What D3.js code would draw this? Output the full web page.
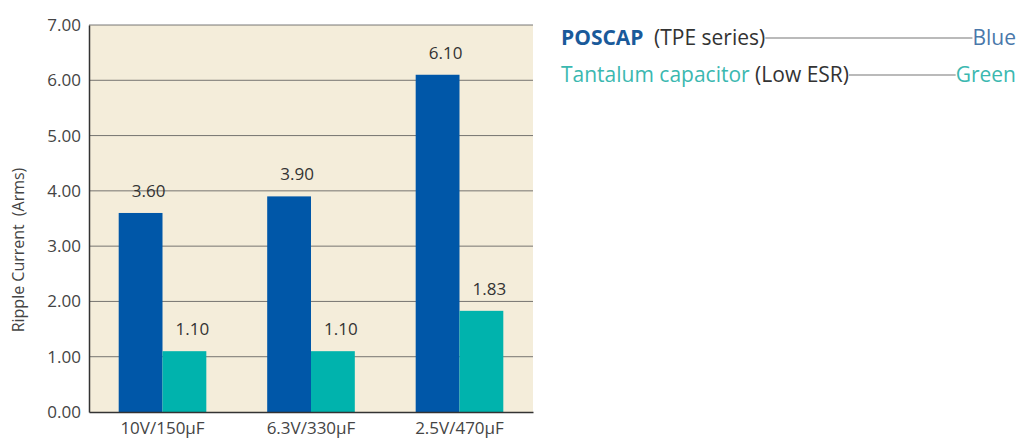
<!DOCTYPE html><html><head><meta charset="utf-8"><script src="https://cdn.jsdelivr.net/npm/d3@7"></script>
<style>body{margin:0;background:#fff}text{font-family:"Open Sans",sans-serif}</style></head><body><svg id="c" width="1024" height="446"></svg><script>
const categories=["10V/150\u03bcF","6.3V/330\u03bcF","2.5V/470\u03bcF"];
const series=["POSCAP","Tantalum"];
const poscap=[3.60,3.90,6.10];
const tantalum=[1.10,1.10,1.83];
const yTicks=[0,1,2,3,4,5,6,7];
const colors=["#0057a8","#00b3ad"];
const svg=d3.select("#c");
const L=89,R=533,T=25,B=412;
const x=d3.scaleBand().domain(categories).range([L,R]).paddingInner(0.41).paddingOuter(0.2);
const xs=d3.scaleBand().domain(series).range([0,x.bandwidth()]);
const y=d3.scaleLinear().domain([0,7]).range([B,T]);
svg.append("rect").attr("x",L).attr("y",T).attr("width",R-L).attr("height",B-T).attr("fill","#f4edda");
svg.append("g").selectAll("line").data(yTicks.slice(1)).join("line").attr("x1",L).attr("x2",R).attr("y1",d=>y(d)).attr("y2",d=>y(d)).attr("stroke","#555").attr("stroke-width",0.8);
const data=categories.map((c,i)=>[{c,s:"POSCAP",v:poscap[i]},{c,s:"Tantalum",v:tantalum[i]}]).flat();
svg.append("g").selectAll("rect").data(data).join("rect").attr("x",d=>x(d.c)+xs(d.s)).attr("width",xs.bandwidth()).attr("y",d=>y(d.v)).attr("height",d=>B-y(d.v)).attr("fill",d=>colors[series.indexOf(d.s)]);
svg.append("g").selectAll("text").data(data).join("text").attr("x",d=>x(d.c)+xs(d.s)+xs.bandwidth()/2+8).attr("y",d=>y(d.v)-16).attr("text-anchor","middle").attr("font-size",17).attr("fill","#333").text(d=>d.v.toFixed(2));
const ya=svg.append("g").attr("transform",`translate(${L},0)`).call(d3.axisLeft(y).tickValues(yTicks).tickSize(0).tickPadding(8).tickFormat(d=>d.toFixed(2)));
ya.select(".domain").attr("stroke","#333").attr("stroke-width",1.5);
ya.selectAll("text").attr("font-size",17).attr("fill","#444").attr("font-family","Open Sans");
const xa=svg.append("g").attr("transform",`translate(0,${B})`).call(d3.axisBottom(x).tickSize(0).tickPadding(10));
xa.select(".domain").attr("stroke","#333").attr("stroke-width",1.5);
xa.selectAll("text").attr("font-size",17).attr("fill","#444").attr("font-family","Open Sans");
svg.append("text").attr("transform","translate(24,250) rotate(-90)").attr("text-anchor","middle").attr("font-size",16).attr("fill","#444").text("Ripple Current\u2002(Arms)");
// legend
function legendRow(yy,parts,endText,endColor){
  const t=svg.append("text").attr("x",561).attr("y",yy).attr("font-size",21);
  parts.forEach(p=>t.append("tspan").attr("fill",p.c).attr("font-weight",p.b?"bold":"normal").text(p.t));
  const w=t.node().getComputedTextLength();
  const e=svg.append("text").attr("x",1016).attr("y",yy).attr("font-size",21).attr("text-anchor","end").attr("fill",endColor).text(endText);
  const ew=e.node().getComputedTextLength();
  svg.append("line").attr("x1",561+w).attr("x2",1016-ew).attr("y1",yy-7).attr("y2",yy-7).attr("stroke","#777").attr("stroke-width",1.2);
}
legendRow(45,[{t:"POSCAP",c:"#1a5a9a",b:true},{t:"\u2002(TPE series)",c:"#333"}],"Blue","#4a78aa");
legendRow(82,[{t:"Tantalum capacitor",c:"#3bb8b0"},{t:" (Low ESR)",c:"#333"}],"Green","#3bb8b0");
</script></body></html>
